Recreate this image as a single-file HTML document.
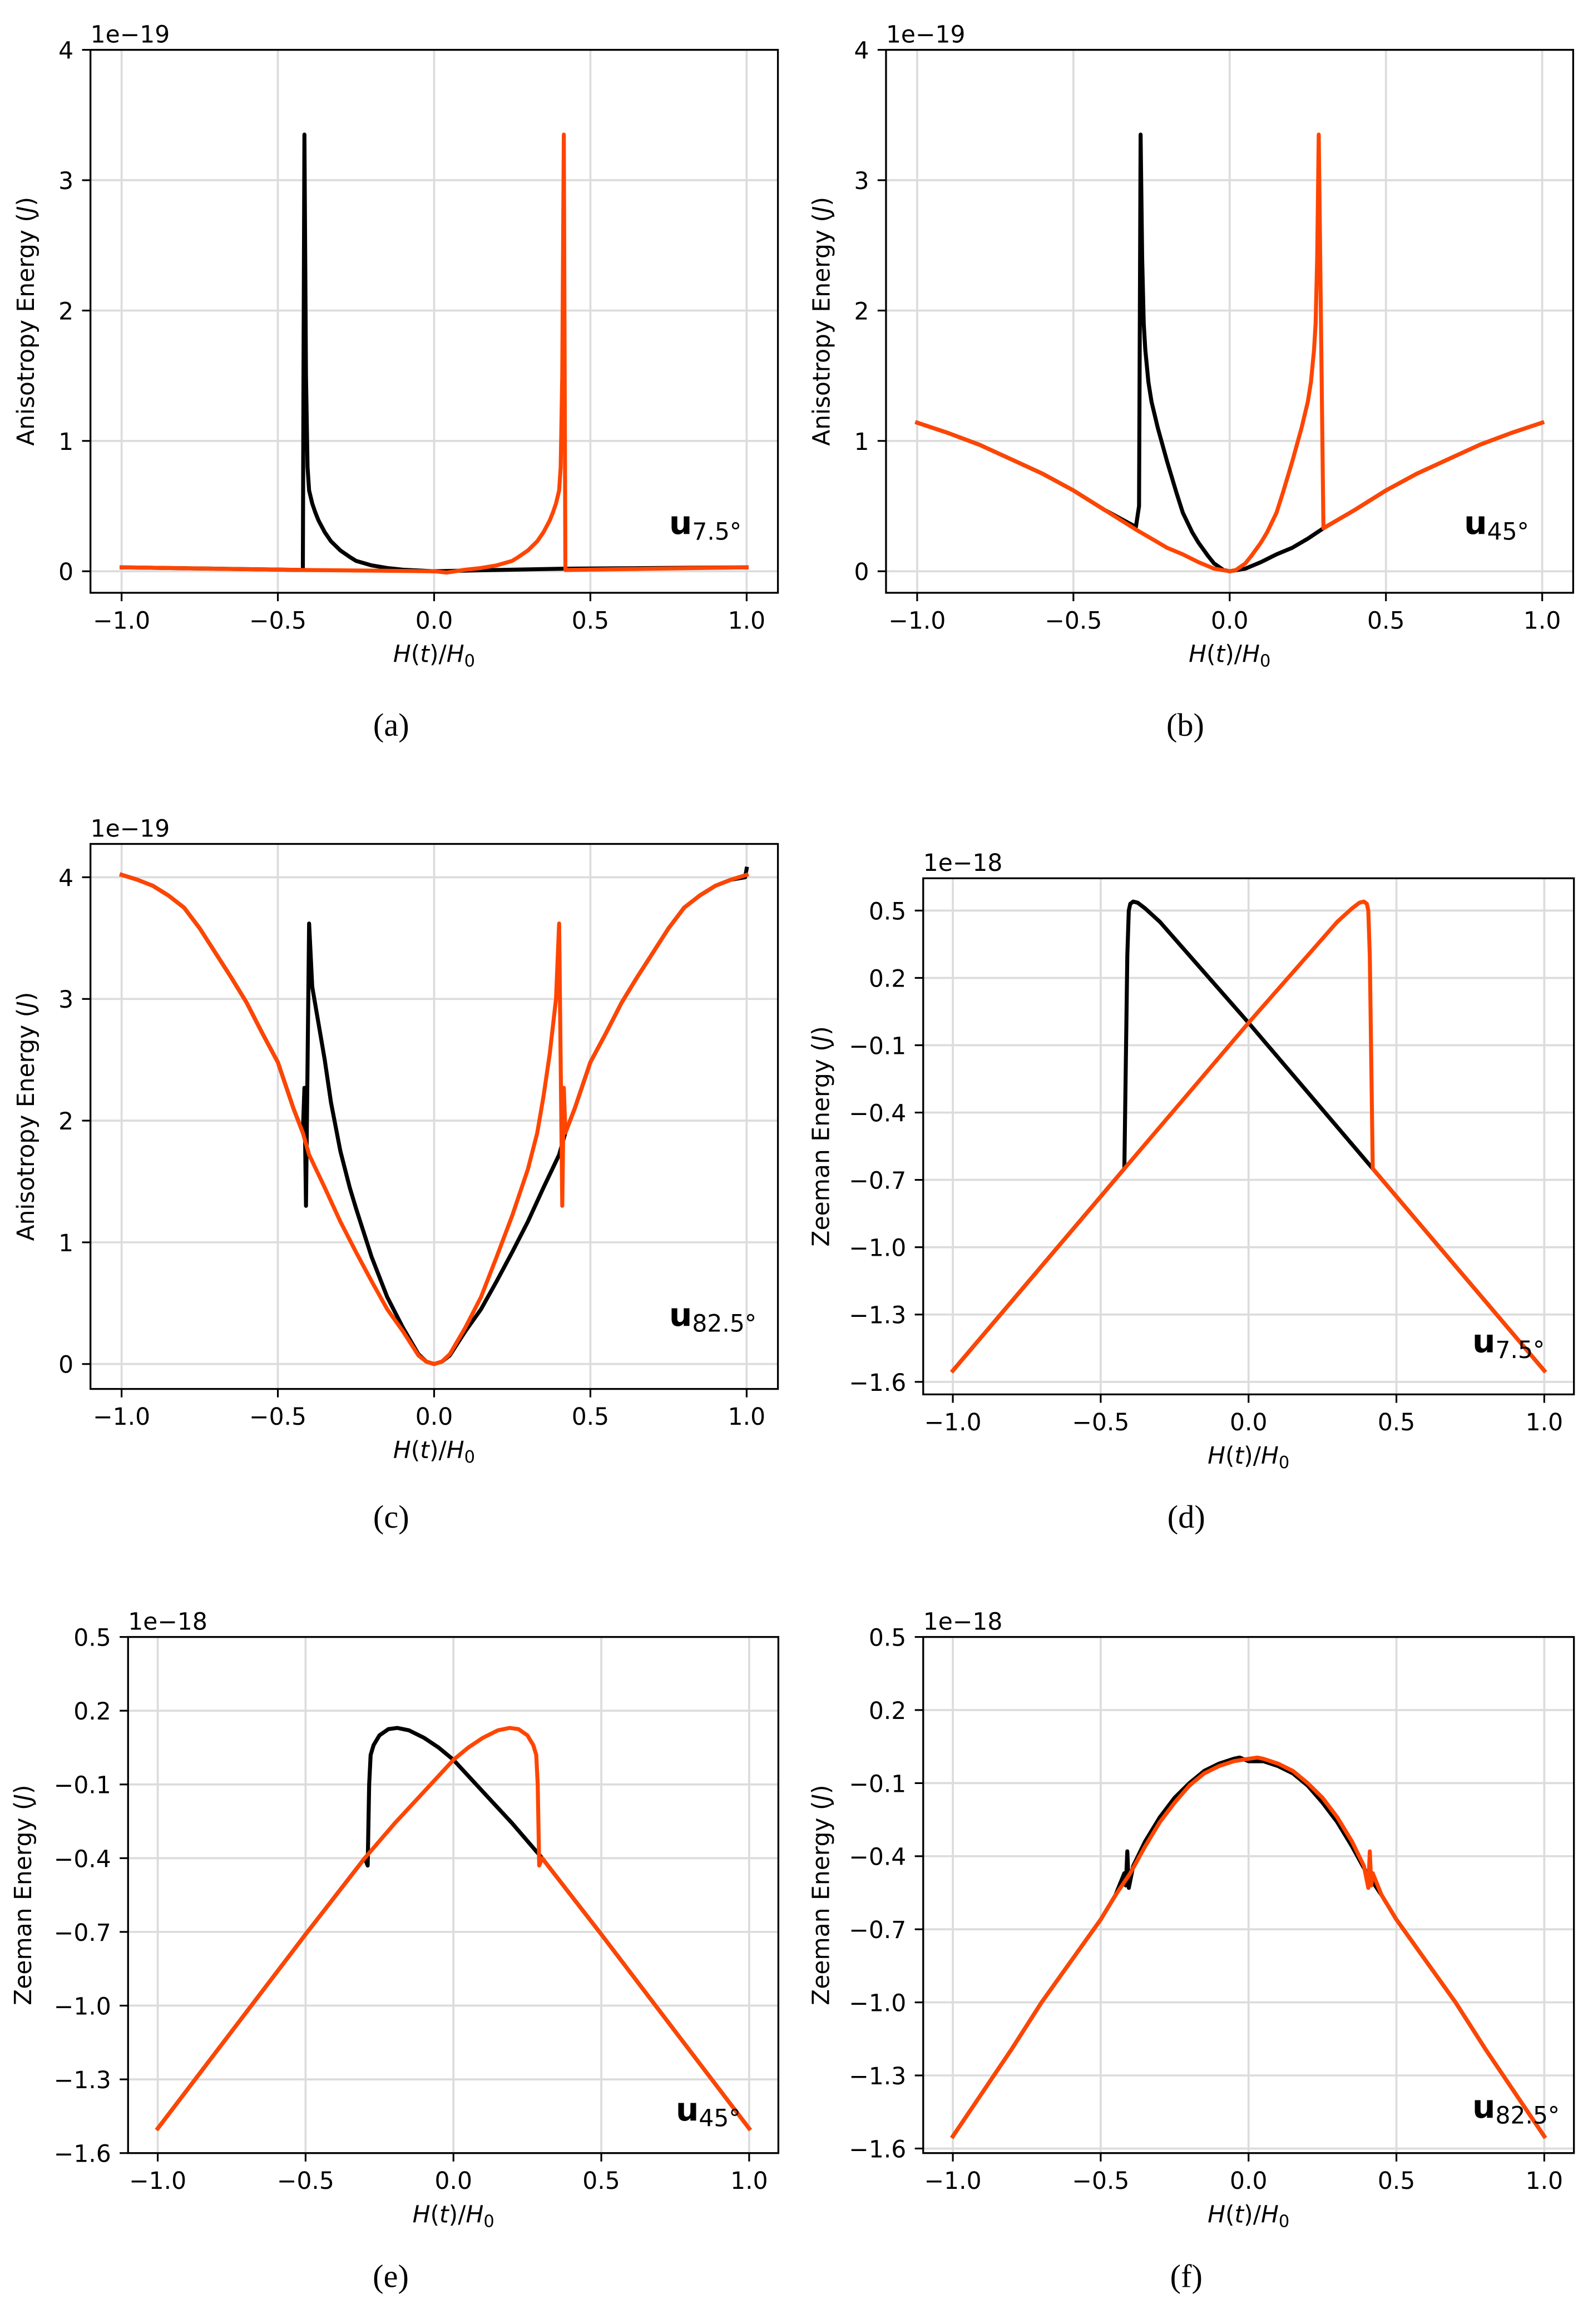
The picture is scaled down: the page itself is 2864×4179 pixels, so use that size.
<!DOCTYPE html>
<html><head><meta charset="utf-8"><style>
html,body{margin:0;padding:0;background:#fff}
svg{display:block}
text{font-family:"DejaVu Sans","Liberation Sans",sans-serif;fill:#000}
.cap{font-family:"Liberation Serif",serif}
</style></head><body>
<svg id="fig" width="2864" height="4179" viewBox="0 0 1080 1576" xmlns="http://www.w3.org/2000/svg"></svg>
<script>
// ---- data (x = H(t)/H0, y in plotted units) ----
const aBlackX=[-1,-0.7,-0.42,-0.418,-0.415,-0.41,-0.405,-0.4,-0.39,-0.38,-0.37,-0.35,-0.33,-0.3,-0.27,-0.25,-0.2,-0.15,-0.1,0,0.2,0.42,1];
const aBlackY=[0.03,0.02,0.01,1.5,3.35,1.5,0.8,0.62,0.52,0.45,0.39,0.3,0.23,0.16,0.11,0.08,0.045,0.025,0.012,0,0.01,0.02,0.03];
const aOrangeX=[-1,-0.42,-0.2,0,0.04,0.1,0.15,0.2,0.25,0.27,0.3,0.33,0.35,0.37,0.38,0.39,0.4,0.405,0.41,0.415,0.42,0.7,1];
const aOrangeY=[0.03,0.01,0.005,0,-0.01,0.012,0.025,0.045,0.08,0.11,0.16,0.23,0.3,0.39,0.45,0.52,0.62,0.8,1.5,3.35,0.01,0.02,0.03];

const bBlackX=[-1,-0.9,-0.8,-0.7,-0.6,-0.5,-0.4,-0.3,-0.29,-0.285,-0.28,-0.275,-0.27,-0.26,-0.25,-0.23,-0.2,-0.17,-0.15,-0.12,-0.1,-0.07,-0.05,-0.02,0,0.05,0.1,0.15,0.2,0.25,0.3,0.4,0.5,0.6,0.7,0.8,0.9,1];
const bBlackY=[1.14,1.06,0.97,0.86,0.75,0.62,0.47,0.34,0.5,3.35,2.4,1.9,1.7,1.45,1.3,1.1,0.84,0.6,0.45,0.3,0.22,0.12,0.06,0.01,0,0.02,0.07,0.13,0.18,0.25,0.33,0.47,0.62,0.75,0.86,0.97,1.06,1.14];
const bOrangeX=[-1,-0.9,-0.8,-0.7,-0.6,-0.5,-0.4,-0.3,-0.25,-0.2,-0.15,-0.1,-0.05,0,0.02,0.05,0.07,0.1,0.12,0.15,0.17,0.2,0.23,0.25,0.26,0.27,0.275,0.28,0.285,0.3,0.4,0.5,0.6,0.7,0.8,0.9,1];
const bOrangeY=[1.14,1.06,0.97,0.86,0.75,0.62,0.47,0.32,0.25,0.18,0.13,0.07,0.02,0,0.01,0.06,0.12,0.22,0.3,0.45,0.6,0.84,1.1,1.3,1.45,1.7,1.9,2.4,3.35,0.33,0.47,0.62,0.75,0.86,0.97,1.06,1.14];

const cBlackX=[-1,-0.95,-0.9,-0.85,-0.8,-0.75,-0.7,-0.65,-0.6,-0.55,-0.5,-0.45,-0.42,-0.415,-0.41,-0.4,-0.39,-0.37,-0.35,-0.33,-0.3,-0.27,-0.25,-0.2,-0.15,-0.1,-0.05,-0.025,0,0.025,0.05,0.1,0.15,0.2,0.25,0.3,0.35,0.4,0.42,0.45,0.5,0.55,0.6,0.65,0.7,0.75,0.8,0.85,0.9,0.95,0.995,1];
const cBlackY=[4.02,3.98,3.93,3.85,3.75,3.58,3.38,3.18,2.97,2.72,2.48,2.1,1.9,2.27,1.3,3.62,3.1,2.8,2.5,2.15,1.75,1.45,1.28,0.88,0.55,0.3,0.08,0.02,0,0.02,0.07,0.27,0.45,0.68,0.92,1.17,1.45,1.72,1.9,2.1,2.48,2.72,2.97,3.18,3.38,3.58,3.75,3.85,3.93,3.98,4.0,4.07];
const cOrangeX=[-1,-0.95,-0.9,-0.85,-0.8,-0.75,-0.7,-0.65,-0.6,-0.55,-0.5,-0.45,-0.42,-0.4,-0.35,-0.3,-0.25,-0.2,-0.15,-0.1,-0.05,-0.025,0,0.025,0.05,0.1,0.15,0.2,0.25,0.3,0.33,0.35,0.37,0.39,0.4,0.41,0.415,0.42,0.45,0.5,0.55,0.6,0.65,0.7,0.75,0.8,0.85,0.9,0.95,1];
const cOrangeY=[4.02,3.98,3.93,3.85,3.75,3.58,3.38,3.18,2.97,2.72,2.48,2.1,1.9,1.72,1.45,1.17,0.92,0.68,0.45,0.27,0.07,0.02,0,0.02,0.08,0.3,0.55,0.88,1.22,1.6,1.9,2.2,2.55,3.0,3.62,1.3,2.27,1.9,2.1,2.48,2.72,2.97,3.18,3.38,3.58,3.75,3.85,3.93,3.98,4.02];

const dBlackX=[-1,-0.42,-0.41,-0.405,-0.4,-0.39,-0.375,-0.35,-0.3,0,0.42,1];
const dBlackY=[-1.55,-0.65,0.3,0.5,0.53,0.54,0.535,0.51,0.45,0,-0.65,-1.55];
const dOrangeX=[-1,-0.42,0,0.3,0.35,0.375,0.39,0.4,0.405,0.41,0.42,1];
const dOrangeY=[-1.55,-0.65,0,0.45,0.51,0.535,0.54,0.53,0.5,0.3,-0.65,-1.55];

const eBlackX=[-1,-0.5,-0.3,-0.29,-0.285,-0.28,-0.27,-0.25,-0.22,-0.19,-0.15,-0.1,-0.05,0,0.1,0.2,0.3,0.5,1];
const eBlackY=[-1.5,-0.71,-0.4,-0.43,-0.1,0.02,0.06,0.1,0.125,0.13,0.12,0.09,0.05,0,-0.13,-0.26,-0.4,-0.71,-1.5];
const eOrangeX=[-1,-0.5,-0.3,-0.2,-0.1,0,0.05,0.1,0.15,0.19,0.22,0.25,0.27,0.28,0.285,0.29,0.3,0.5,1];
const eOrangeY=[-1.5,-0.71,-0.4,-0.26,-0.13,0,0.05,0.09,0.12,0.13,0.125,0.1,0.06,0.02,-0.1,-0.43,-0.4,-0.71,-1.5];

const fBlackX=[-1,-0.9,-0.8,-0.7,-0.6,-0.5,-0.45,-0.42,-0.415,-0.41,-0.405,-0.4,-0.39,-0.35,-0.3,-0.25,-0.2,-0.15,-0.1,-0.05,-0.03,0,0.05,0.1,0.15,0.2,0.25,0.3,0.35,0.4,0.45,0.5,0.6,0.7,0.8,0.9,1];
const fBlackY=[-1.55,-1.37,-1.19,-1.0,-0.83,-0.66,-0.56,-0.47,-0.52,-0.38,-0.53,-0.5,-0.44,-0.34,-0.24,-0.16,-0.1,-0.05,-0.02,0.0,0.005,-0.01,-0.01,-0.03,-0.06,-0.11,-0.18,-0.26,-0.36,-0.47,-0.56,-0.66,-0.83,-1.0,-1.19,-1.37,-1.55];
const fOrangeX=[-1,-0.9,-0.8,-0.7,-0.6,-0.5,-0.45,-0.4,-0.35,-0.3,-0.25,-0.2,-0.15,-0.1,-0.05,0,0.03,0.05,0.1,0.15,0.2,0.25,0.3,0.35,0.39,0.4,0.405,0.41,0.415,0.42,0.45,0.5,0.6,0.7,0.8,0.9,1];
const fOrangeY=[-1.55,-1.37,-1.19,-1.0,-0.83,-0.66,-0.56,-0.47,-0.36,-0.26,-0.18,-0.11,-0.06,-0.03,-0.01,0.0,0.005,0.0,-0.02,-0.05,-0.1,-0.16,-0.24,-0.34,-0.44,-0.5,-0.53,-0.38,-0.52,-0.47,-0.56,-0.66,-0.83,-1.0,-1.19,-1.37,-1.55];

const xTicks=[-1,-0.5,0,0.5,1];
const xTickLabels=["\u22121.0","\u22120.5","0.0","0.5","1.0"];
const anisoTicks=[0,1,2,3,4];
const anisoTickLabels=["0","1","2","3","4"];
const zeeTicks=[0.5,0.2,-0.1,-0.4,-0.7,-1.0,-1.3,-1.6];
const zeeTickLabels=["0.5","0.2","\u22120.1","\u22120.4","\u22120.7","\u22121.0","\u22121.3","\u22121.6"];

const NS="http://www.w3.org/2000/svg";
const fig=document.getElementById('fig');
function mk(tag,attrs,parent){const e=document.createElementNS(NS,tag);for(const k in attrs)e.setAttribute(k,attrs[k]);(parent||fig).appendChild(e);return e;}

function panel(p){
  const g=mk('g',{});
  
  
  const X=v=>p.x0+(v-p.xv0)*(p.x1-p.x0)/(p.xv1-p.xv0);
  const Y=v=>p.y0+(v-p.yv0)*(p.y1-p.y0)/(p.yv1-p.yv0);
  xTicks.forEach(t=>{
    const l=mk('line',{x1:X(t),x2:X(t),y1:p.top,y2:p.bottom,stroke:'#dcdcdc','stroke-width':1.4},g);
    
    
  });
  p.yt.forEach(t=>{
    const l=mk('line',{x1:p.left,x2:p.right,y1:Y(t),y2:Y(t),stroke:'#dcdcdc','stroke-width':1.4},g);
    
    
  });
  const cp=mk('clipPath',{id:'clip'+p.id},g);
  mk('rect',{x:p.left,y:p.top,width:p.right-p.left,height:p.bottom-p.top},cp);
  [[p.bx,p.by,'#000','black'],[p.ox,p.oy,'#ff4500','orange']].forEach(s=>{
    const d=s[0].map((v,i)=>(i?'L':'M')+X(v).toFixed(2)+' '+Y(s[1][i]).toFixed(2)).join(' ');
    const path=mk('path',{d:d,fill:'none',stroke:s[2],'stroke-width':2.7,'stroke-linejoin':'round','stroke-linecap':'square','clip-path':'url(#clip'+p.id+')'},g);
    
    
  });
  const fr=mk('rect',{x:p.left,y:p.top,width:p.right-p.left,height:p.bottom-p.top,fill:'none',stroke:'#000','stroke-width':1.25},g);
  
  
  xTicks.forEach((t,i)=>{
    mk('line',{x1:X(t),x2:X(t),y1:p.bottom,y2:p.bottom+5.7,stroke:'#000','stroke-width':1.2},g);
    const tx=mk('text',{x:X(t),y:p.bottom+24.3,'font-size':16,'text-anchor':'middle'},g);
    tx.textContent=xTickLabels[i];
    
    
  });
  p.yt.forEach((t,i)=>{
    mk('line',{x1:p.left-5.7,x2:p.left,y1:Y(t),y2:Y(t),stroke:'#000','stroke-width':1.2},g);
    const tx=mk('text',{x:p.left-11.5,y:Y(t)+6,'font-size':16,'text-anchor':'end'},g);
    tx.textContent=p.ytl[i];
    
    
  });
  const off=mk('text',{x:p.left,y:p.top-5,'font-size':16},g);
  off.textContent=p.offset;
  
  
  const cy=(p.top+p.bottom)/2;
  const yl=mk('text',{x:p.ylx,y:cy,'font-size':16,'text-anchor':'middle',transform:'rotate(-90 '+p.ylx+' '+cy+')'},g);
  yl.innerHTML=p.ylabel+' (<tspan font-style="italic">J</tspan>)';
  
  
  const xl=mk('text',{x:X(0),y:p.bottom+47,'font-size':16,'text-anchor':'middle'},g);
  xl.innerHTML='<tspan font-style="italic">H</tspan>(<tspan font-style="italic">t</tspan>)/<tspan font-style="italic">H</tspan><tspan font-size="11.5" dy="3">0</tspan>';
  
  
  const ul=mk('text',{x:p.ux,y:p.uy,'font-size':22,'font-weight':'bold'},g);
  ul.innerHTML='u<tspan font-size="16" font-weight="normal" dy="4">'+p.usub+'</tspan>';
  
  
  const cap=mk('text',{x:p.capx,y:p.capy,'font-size':22,'text-anchor':'middle','class':'cap'},g);
  cap.textContent='('+p.id+')';
  
  
}

const A={yt:anisoTicks,ytl:anisoTickLabels,offset:'1e\u221219',ylabel:'Anisotropy Energy'};
const Z={yt:zeeTicks,ytl:zeeTickLabels,offset:'1e\u221218',ylabel:'Zeeman Energy'};

panel(Object.assign({},A,{id:'a',left:61.3,right:527.4,top:33.8,bottom:402,x0:82.4,x1:506.2,xv0:-1,xv1:1,y0:387.4,y1:33.8,yv0:0,yv1:4,
  bx:aBlackX,by:aBlackY,ox:aOrangeX,oy:aOrangeY,ylx:23,ux:453.6,uy:362,usub:'7.5\u00b0',capx:265.2,capy:499}));
panel(Object.assign({},A,{id:'b',left:600.7,right:1066.6,top:33.8,bottom:402,x0:621.8,x1:1045.6,xv0:-1,xv1:1,y0:387.4,y1:33.8,yv0:0,yv1:4,
  bx:bBlackX,by:bBlackY,ox:bOrangeX,oy:bOrangeY,ylx:562.5,ux:992.6,uy:362,usub:'45\u00b0',capx:803.6,capy:499}));
panel(Object.assign({},A,{id:'c',left:61.3,right:527.4,top:572.3,bottom:941.9,x0:82.4,x1:506.2,xv0:-1,xv1:1,y0:925,y1:594.9,yv0:0,yv1:4,
  bx:cBlackX,by:cBlackY,ox:cOrangeX,oy:cOrangeY,ylx:23,ux:453.6,uy:899,usub:'82.5\u00b0',capx:265.2,capy:1036}));
panel(Object.assign({},Z,{id:'d',left:625.9,right:1067.1,top:595.6,bottom:945.6,x0:646.0,x1:1047.0,xv0:-1,xv1:1,y0:617.5,y1:937.1,yv0:0.5,yv1:-1.6,
  bx:dBlackX,by:dBlackY,ox:dOrangeX,oy:dOrangeY,ylx:562,ux:998.2,uy:917,usub:'7.5\u00b0',capx:804.3,capy:1036}));
panel(Object.assign({},Z,{id:'e',left:86.8,right:527.7,top:1110.1,bottom:1460.1,x0:106.9,x1:507.9,xv0:-1,xv1:1,y0:1110.1,y1:1460.1,yv0:0.5,yv1:-1.6,
  bx:eBlackX,by:eBlackY,ox:eOrangeX,oy:eOrangeY,ylx:21,ux:458.1,uy:1438,usub:'45\u00b0',capx:264.9,capy:1551}));
panel(Object.assign({},Z,{id:'f',left:625.9,right:1067.1,top:1110.1,bottom:1460.1,x0:646.0,x1:1047.0,xv0:-1,xv1:1,y0:1110.1,y1:1457,yv0:0.5,yv1:-1.6,
  bx:fBlackX,by:fBlackY,ox:fOrangeX,oy:fOrangeY,ylx:562,ux:998.2,uy:1436,usub:'82.5\u00b0',capx:804.3,capy:1551}));
</script>
</body></html>
